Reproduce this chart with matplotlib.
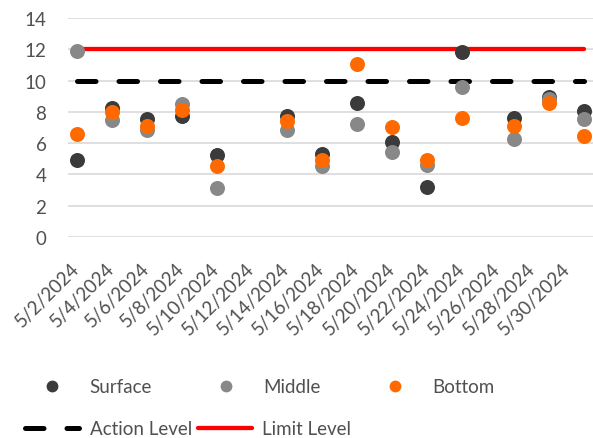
import datetime as dt
import matplotlib
matplotlib.use("Agg")
import matplotlib.pyplot as plt
import matplotlib.dates as mdates
import matplotlib.transforms as mtransforms
from matplotlib.lines import Line2D
from matplotlib.ticker import FuncFormatter

plt.rcParams['font.family'] = ['Lato', 'DejaVu Sans']

# sample dates (May 2024)
days = [2, 4, 6, 8, 10, 14, 16, 18, 20, 22, 24, 27, 29, 31]
dates = [dt.date(2024, 5, d) for d in days]

surface = [4.92, 8.25, 7.54, 7.72, 5.24, 7.72, 5.31, 8.55, 6.05, 3.18, 11.81, 7.59, 8.93, 8.08]
middle  = [11.91, 7.50, 6.86, 8.50, 3.11, 6.84, 4.56, 7.22, 5.41, 4.60, 9.57, 6.27, 8.82, 7.54]
bottom  = [6.59, 8.01, 7.12, 8.12, 4.56, 7.40, 4.94, 11.06, 7.01, 4.94, 7.59, 7.10, 8.55, 6.44]

action_level = 10
limit_level = 12

c_surf = '#3b3b3b'
c_mid = '#888888'
c_bot = '#ff6a00'
txt = '#505050'

fig = plt.figure(figsize=(5.93, 4.39), dpi=100)
ax = fig.add_axes([68/593, 1-238/439, 525/593, 219/439])

lvl_dates = [dates[0], dates[-1]]
act, = ax.plot(lvl_dates, [action_level]*2, c='k', lw=3.6, dash_capstyle='round', zorder=2)
act.set_dashes((3.7, 4.6))
lim, = ax.plot(lvl_dates, [limit_level]*2, c='#ff0000', lw=3.1, solid_capstyle='round', zorder=2)

ms = 10.8
s1, = ax.plot(dates, surface, 'o', c=c_surf, ms=ms, mec='none', zorder=3)
s2, = ax.plot(dates, middle, 'o', c=c_mid, ms=ms, mec='none', zorder=4)
s3, = ax.plot(dates, bottom, 'o', c=c_bot, ms=ms, mec='none', zorder=5)

ax.set_ylim(0, 14)
ax.set_yticks(range(0, 15, 2))
ax.set_xlim(mdates.date2num(dt.date(2024, 5, 2)) - 0.5, mdates.date2num(dt.date(2024, 5, 31)) + 0.5)
ax.set_xticks([dt.date(2024, 5, d) for d in range(2, 31, 2)])
ax.xaxis.set_major_formatter(FuncFormatter(
    lambda x, p: "{0.month}/{0.day}/{0.year}".format(mdates.num2date(x))))
ax.grid(axis='y', c='#d9d9d9', lw=1.2, zorder=0)
ax.set_axisbelow(True)
for sp in ax.spines.values():
    sp.set_visible(False)
ax.tick_params(axis='y', length=0, pad=15.5, labelsize=13.5, labelcolor=txt)
ax.tick_params(axis='x', length=0, pad=16, labelsize=13.5, labelcolor=txt)
shift = mtransforms.ScaledTranslation(6/100, 0, fig.dpi_scale_trans)
for t in ax.get_xticklabels():
    t.set_rotation(45)
    t.set_ha('right')
    t.set_va('top')
    t.set_transform(t.get_transform() + shift)

# legend, row 1 markers
h1 = [Line2D([], [], ls='none', marker='o', ms=8.5, c=c, mec='none') for c in (c_surf, c_mid, c_bot)]
leg1 = fig.legend(h1, ['Surface', 'Middle', 'Bottom'], ncol=3, loc='center left',
                  bbox_to_anchor=(25/593, 1-388/439), frameon=False, fontsize=13.5,
                  handlelength=2.9, handletextpad=0.55, columnspacing=2.5,
                  borderpad=0, borderaxespad=0, labelcolor=txt)
# legend, row 2 lines
ha = Line2D([], [], c='k', lw=3.6, dash_capstyle='round')
ha.set_dashes((3.7, 4.6))
hl = Line2D([], [], c='#ff0000', lw=3.1, solid_capstyle='round')
leg2 = fig.legend([ha, hl], ['Action Level', 'Limit Level'], ncol=2, loc='center left',
                  bbox_to_anchor=(25/593, 1-430/439), frameon=False, fontsize=13.5,
                  handlelength=2.9, handletextpad=0.55, columnspacing=0.3,
                  borderpad=0, borderaxespad=0, labelcolor=txt)

fig.savefig("out.png", dpi=100)
